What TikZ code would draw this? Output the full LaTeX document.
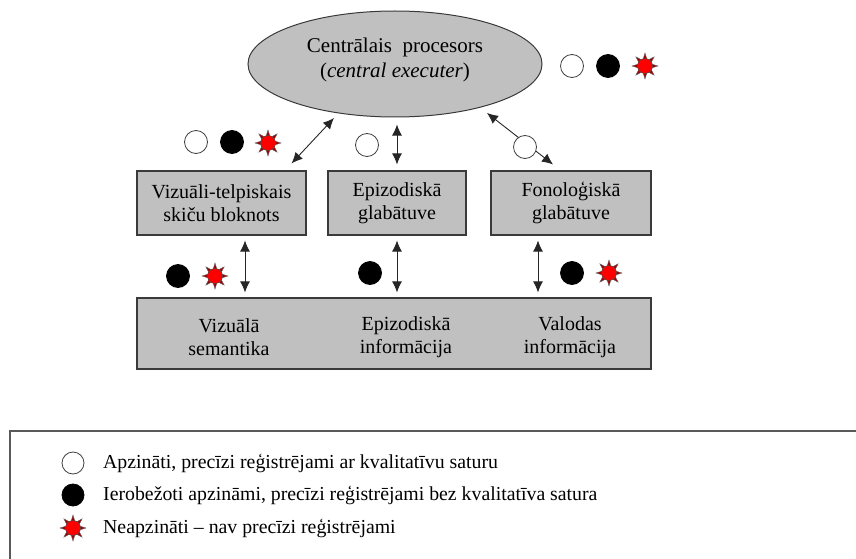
\documentclass[tikz,border=0pt]{standalone}
\usepackage{fontspec}
\setmainfont{Liberation Serif}
\usetikzlibrary{arrows.meta,shapes.geometric,calc}

\definecolor{boxfill}{HTML}{C0C0C0}
\definecolor{boxline}{HTML}{3A3A3A}
\definecolor{spikered}{HTML}{A00000}

\tikzset{
  unitbox/.style={draw=boxline, line width=1.1pt, fill=boxfill, inner sep=0pt,
    align=center, font=\fontsize{20}{23}\selectfont},
  dbl/.style={{Latex[length=11pt,width=10pt]}-{Latex[length=11pt,width=10pt]},
    line width=0.9pt, draw=black!85},
  opendot/.style={circle, draw=black!75, line width=0.8pt, fill=white,
    minimum size=23pt, inner sep=0pt},
  fulldot/.style={circle, draw=black, line width=0.8pt, fill=black,
    minimum size=23pt, inner sep=0pt},
  suncore/.style={circle, draw=black!70, line width=0.5pt, fill=red,
    minimum size=15pt, inner sep=0pt},
  sunmark/.pic={
    \foreach \a in {0,45,...,315}{
      \filldraw[fill=spikered, draw=black!60, line width=0.4pt]
        (\a:13) -- (\a+16:7) -- (\a-16:7) -- cycle;
    }
    \node[suncore] (-c) {};
  },
  legendtext/.style={anchor=west, inner sep=0pt, font=\fontsize{19.8}{22}\selectfont},
}

\begin{document}
\begin{tikzpicture}[x=1pt, y=-1pt]
\useasboundingbox (0,0) rectangle (856,559);

% central executive
\node[ellipse, draw=boxline, line width=1pt, fill=boxfill,
      minimum width=294pt, minimum height=106pt, inner sep=0pt] (cpu) at (395,64) {};
\node[align=center, font=\fontsize{21}{25}\selectfont, inner sep=0pt] (cputext)
  at (395,60) {Centrālais\ \ procesors\\(\textit{central executer})};

% buffers
\node[unitbox, minimum width=169pt, minimum height=64pt] (vs) at (221.5,203)
  {Vizuāli-telpiskais\\skiču bloknots};
\node[unitbox, minimum width=138pt, minimum height=64pt] (eb) at (397,203)
  {Epizodiskā\\glabātuve};
\node[unitbox, minimum width=160pt, minimum height=64pt] (pl) at (571,203)
  {Fonoloģiskā\\glabātuve};

% long-term memory
\node[unitbox, minimum width=514pt, minimum height=71pt] (ltm) at (394,333.5) {};
\node[align=center, font=\fontsize{20}{23}\selectfont, inner sep=0pt] (ltm1)
  at (229,337) {Vizuālā\\semantika};
\node[align=center, font=\fontsize{20}{23}\selectfont, inner sep=0pt] (ltm2)
  at (406,337) {Epizodiskā\\informācija};
\node[align=center, font=\fontsize{20}{23}\selectfont, inner sep=0pt] (ltm3)
  at (570,337) {Valodas\\informācija};

% links to the central executive
\draw[dbl] ($(vs.north east)+(-15,-7)$) -- ($(cpu.center)+(-61,54)$);
\draw[dbl] ([yshift=6pt]eb.north) -- ([yshift=-7pt]eb.north |- cpu.south);
\draw[dbl] ($(cpu.center)+(92,49)$) -- ($(pl.north)+(-18,-6)$);

% links to long-term memory
\draw[dbl] ($(vs.south)+(23.5,5)$) -- ($(vs.south |- ltm.north)+(23.5,-5)$);
\draw[dbl] ($(eb.south)+(0,5)$) -- ($(eb.south |- ltm.north)+(0,-5)$);
\draw[dbl] ($(pl.south)+(-33,5)$) -- ($(pl.south |- ltm.north)+(-33,-5)$);

% awareness markers
\node[opendot] (a1) at (572,66) {};
\node[fulldot] (a2) at (608,66) {};
\pic (a3) at (645,66) {sunmark};

\node[opendot] (b1) at (196,142) {};
\node[fulldot] (b2) at (232,142) {};
\pic (b3) at (268,143) {sunmark};

\node[opendot] (c1) at (367,145) {};
\node[opendot] (d1) at (525,147) {};

\node[fulldot] (e1) at (178,276) {};
\pic (e2) at (215,276) {sunmark};
\node[fulldot] (f1) at (370,273) {};
\node[fulldot] (g1) at (572,273) {};
\pic (g2) at (609,273) {sunmark};

% legend frame
\begin{scope}
  \clip (0,0) rectangle (856,559);
  \draw[draw=black!65, line width=1.3pt] (10,431) rectangle (880,590);
\end{scope}
\node[opendot, minimum size=22pt] (k1) at (73,463) {};
\node[legendtext] (t1) at (103,463) {Apzināti, precīzi reģistrējami ar kvalitatīvu saturu};
\node[fulldot, minimum size=22pt] (k2) at (73,495) {};
\node[legendtext] (t2) at (103,495) {Ierobežoti apzināmi, precīzi reģistrējami bez kvalitatīva satura};
\pic (k3) at (73,528) {sunmark};
\node[legendtext] (t3) at (103,528) {Neapzināti – nav precīzi reģistrējami};
\end{tikzpicture}
\end{document}
